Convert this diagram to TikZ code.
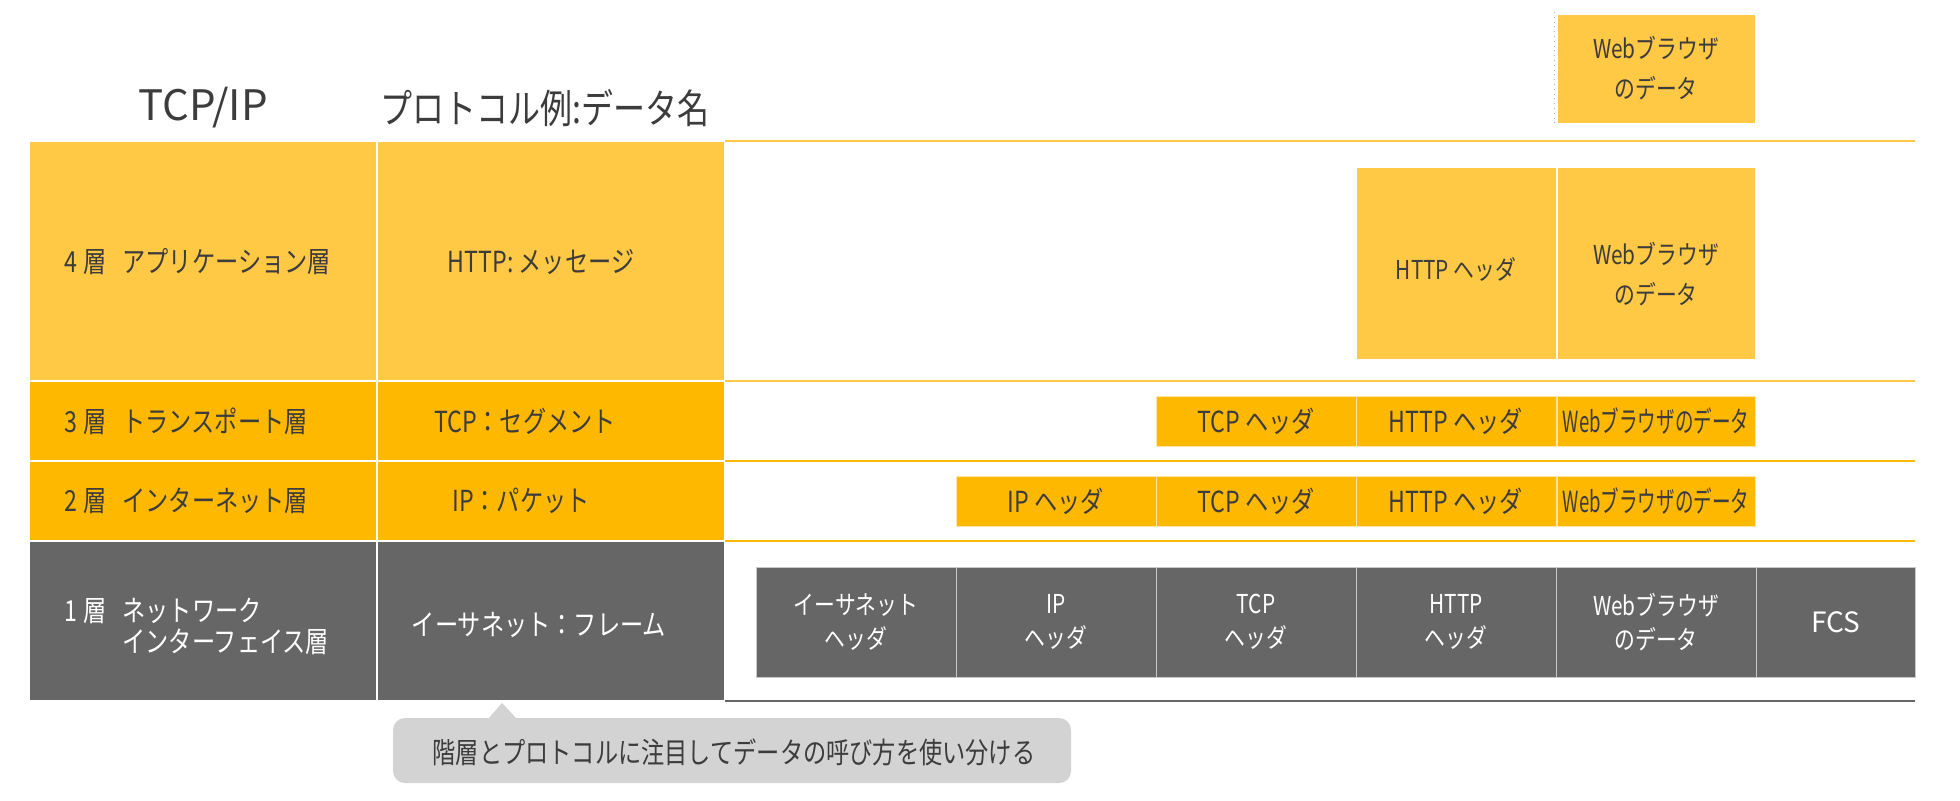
\documentclass[tikz,border=0pt]{standalone}
\usepackage{fontspec}
\usepackage{graphicx}
\newfontfamily\jpfont{Noto Sans CJK JP}[FakeStretch=0.8]
\newfontfamily\latinfont{Noto Sans CJK JP}
\definecolor{layyellow}{HTML}{FFC845}
\definecolor{layorange}{HTML}{FFB800}
\definecolor{laygray}{HTML}{666666}
\definecolor{inkgray}{HTML}{3C3C3C}
\definecolor{notegray}{HTML}{D3D3D3}
\newcommand\layno[1]{#1\hspace{3pt}層\hspace{8pt}}
\newcommand\squeezed[1]{\scalebox{0.8}[1]{#1}}

\begin{document}
\begin{tikzpicture}[x=0.5pt,y=-0.5pt]
\tikzset{txt/.style={inner sep=0pt,text=inkgray,font=\jpfont\fontsize{14.5}{17}\selectfont},
  head/.style={inner sep=0pt,text=inkgray,font=\jpfont\fontsize{20}{24}\selectfont},
  rule/.style={line width=0.8pt},
  seg/.style={rectangle,inner sep=0pt,line width=0.5pt,align=center,text=inkgray,minimum width=100pt,font=\jpfont\fontsize{14.5}{20}\selectfont},
  seg4/.style={seg,fill=layyellow,draw=white,font=\jpfont\fontsize{13}{20}\selectfont},
  seg3/.style={seg,fill=layorange,draw=white!65!layorange,minimum height=25pt},
  seg1/.style={seg,fill=laygray,draw=black!22,text=white,minimum height=55pt,font=\jpfont\fontsize{13}{17}\selectfont}};
\fill[white] (0,0) rectangle (1960,800);
% headings
\node[head,font=\latinfont\fontsize{21}{24}\selectfont] (hdlayer) at (203,108) {TCP/IP};
\node[head] (hdname) at (545,108) {プロトコル例:データ名};
% left table
\fill[layyellow] (30,142) rectangle (376,380);
\fill[layyellow] (378,142) rectangle (724,380);
\fill[layorange] (30,382) rectangle (376,460);
\fill[layorange] (378,382) rectangle (724,460);
\fill[layorange] (30,462) rectangle (376,540);
\fill[layorange] (378,462) rectangle (724,540);
\fill[laygray] (30,542) rectangle (376,700);
\fill[laygray] (378,542) rectangle (724,700);
\node[txt,anchor=west] (lay4) at (64,262) {\layno{4}アプリケーション層};
\node[txt,anchor=west] (lay3) at (64,421) {\layno{3}トランスポート層};
\node[txt,anchor=west] (lay2) at (64,501) {\layno{2}インターネット層};
\node[txt,anchor=west,text=white,align=left,font=\jpfont\fontsize{14.5}{15.5}\selectfont] (lay1) at (64,626) {\layno{1}ネットワーク\\\hphantom{\layno{1}}インターフェイス層};
\node[txt] (pdu4) at (541,262) {HTTP: メッセージ};
\node[txt] (pdu3) at (525,421) {TCP：セグメント};
\node[txt] (pdu2) at (521,501) {IP：パケット};
\node[txt,text=white] (pdu1) at (539,625) {イーサネット：フレーム};
% layer rules
\draw[rule,layyellow] (725,141) -- (1915,141);
\draw[rule,layyellow] (725,381) -- (1915,381);
\draw[rule,layorange] (725,461) -- (1915,461);
\draw[rule,layorange] (725,541) -- (1915,541);
\draw[rule,laygray,line width=1pt] (725,701) -- (1915,701);
% data units
\draw[black!30,dotted,line width=0.4pt] (1554,12) -- (1554,123);
\node[seg4,minimum width=99pt,minimum height=54.5pt] (topdata) at (1656,68.5) {Webブラウザ\\のデータ};
\node[seg4,minimum height=96pt] (r4http) at (1456,263) {};
\node[seg4,minimum width=99pt,minimum height=96pt] (r4data) at (1656,263) {};
\node[seg4,fill=none,draw=none] (r4httptxt) at (1456,269) {HTTP ヘッダ};
\node[seg4,fill=none,draw=none] (r4datatxt) at (1656,274) {Webブラウザ\\のデータ};
\node[seg3] (r3tcp) at (1256,421) {TCP ヘッダ};
\node[seg3] (r3http) at (1456,421) {HTTP ヘッダ};
\node[seg3,minimum width=99pt] (r3data) at (1656,421) {\squeezed{Webブラウザのデータ}};
\node[seg3] (r2ip) at (1056,501) {IP ヘッダ};
\node[seg3] (r2tcp) at (1256,501) {TCP ヘッダ};
\node[seg3] (r2http) at (1456,501) {HTTP ヘッダ};
\node[seg3,minimum width=99pt] (r2data) at (1656,501) {\squeezed{Webブラウザのデータ}};
\node[seg1] (r1eth) at (856,622) {イーサネット\\ヘッダ};
\node[seg1] (r1ip) at (1056,622) {IP\\ヘッダ};
\node[seg1] (r1tcp) at (1256,622) {TCP\\ヘッダ};
\node[seg1] (r1http) at (1456,622) {HTTP\\ヘッダ};
\node[seg1] (r1data) at (1656,622) {Webブラウザ\\のデータ};
\node[seg1,minimum width=79.5pt,font=\latinfont\fontsize{14}{17}\selectfont] (r1fcs) at (1835.5,622) {FCS};
% note
\fill[notegray,rounded corners=6pt] (393,718) rectangle (1071,783);
\fill[notegray] (488,719) -- (502,703) -- (517,719) -- cycle;
\node[txt] (note) at (734,752) {階層とプロトコルに注目してデータの呼び方を使い分ける};
\end{tikzpicture}
\end{document}
